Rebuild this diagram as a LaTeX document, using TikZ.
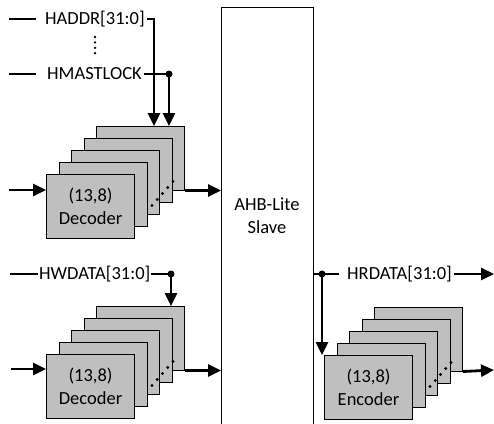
\documentclass[tikz,border=0pt]{standalone}
\usepackage{fontspec}
\setmainfont{Carlito}
\usetikzlibrary{arrows.meta}
\definecolor{cardgray}{HTML}{BFBFBF}
\begin{document}
\begin{tikzpicture}[x=1pt,y=-1pt,
  card/.style={draw=black, fill=cardgray, line width=1pt, minimum width=88pt, minimum height=63.5pt, inner sep=0pt, align=center, font=\fontsize{18.5}{23.5}\selectfont, anchor=north west},
  slave/.style={draw=black, line width=1pt, minimum width=92pt, minimum height=440pt, inner sep=0pt, anchor=north west},
  wire/.style={line width=2.8pt},
  arr/.style={wire, -{Triangle[length=13pt,width=12pt]}},
  lbl/.style={font=\fontsize{18.5}{23}\selectfont, inner sep=2pt, anchor=west},
  jdot/.style={circle, fill=black, inner sep=0pt, minimum size=7pt},
  sdot/.style={circle, fill=black, inner sep=0pt, minimum size=3.2pt}]
\clip (0,0) rectangle (494,423);

% AHB-Lite slave
\node[slave] (ahb) at (221,7) {};
\node[font=\fontsize{18.5}{23}\selectfont, align=center] (ahbtxt) at (267,216) {AHB-Lite\\Slave};

% ---------- top decoder stack ----------
\foreach \k in {4,3,2,1}
  \node[card] (dA\k) at ({46+12.5*\k},{174-12*\k}) {};
\node[card] (dA0) at (46,174) {(13,8)\\Decoder};
\foreach \i in {0,...,4}
  \node[sdot] (dAd\i) at ([shift={({17+5.25*\i},{-33-6*\i})}]dA0.south east) {};

% ---------- bottom decoder stack ----------
\foreach \k in {4,3,2,1}
  \node[card] (dB\k) at ({46+12.5*\k},{354-12*\k}) {};
\node[card] (dB0) at (46,354) {(13,8)\\Decoder};
\foreach \i in {0,...,4}
  \node[sdot] (dBd\i) at ([shift={({17+5.25*\i},{-33-6*\i})}]dB0.south east) {};

% ---------- encoder stack ----------
\foreach \k in {4,3,2,1}
  \node[card] (eC\k) at ({324+12.5*\k},{355-12*\k}) {};
\node[card] (eC0) at (324,355) {(13,8)\\Encoder};
\foreach \i in {0,...,4}
  \node[sdot] (eCd\i) at ([shift={({17+5.25*\i},{-33-6*\i})}]eC0.south east) {};

% ---------- labels ----------
\node[lbl] (haddr) at (43,19) {HADDR[31:0]};
\node[lbl] (hm) at (45,74) {HMASTLOCK};
\node[lbl, inner sep=1pt] (hw) at (38,274) {HWDATA[31:0]};
\node[lbl] (hr) at (345,274) {HRDATA[31:0]};

% vertical dots
\foreach \i in {0,...,3}
  \node[sdot, minimum size=2.6pt] (vd\i) at (95,{37+5.4*\i}) {};

% ---------- coordinates ----------
\coordinate (haL) at (9,19);
\coordinate (hmL) at (9,74);
\coordinate (hwL) at (10,274);
\coordinate (jA) at (169,74);
\coordinate (jB) at (171,274);
\coordinate (jC) at (322,274);
\coordinate (inA) at (9,190);
\coordinate (inB) at (11,369);
\coordinate (hrOut) at (494,274);
\coordinate (eOut) at (494,370);

% ---------- top wiring ----------
\draw[wire] (haL) -- ([xshift=-7pt]haddr.west);
\draw[wire] (hmL) -- ([xshift=-9pt]hm.west);
\draw[arr] (haddr.east) -| ([xshift=58pt]dA4.north west);
\draw[wire] (hm.east) -- (jA);
\draw[arr] (jA) -- (jA |- dA4.north);
\node[jdot] (jAd) at (jA) {};
\draw[arr] (inA) -- (inA -| dA0.west);
\draw[arr] (dA4.south east) -- (dA4.south east -| ahb.west);

% ---------- bottom-left wiring ----------
\draw[wire] (hwL) -- (hw.west);
\draw[wire] (hw.east) -- (jB);
\draw[arr] (jB) -- (jB |- dB4.north);
\node[jdot] (jBd) at (jB) {};
\draw[arr] (inB) -- (inB -| dB0.west);
\draw[arr] (dB4.south east) -- (dB4.south east -| ahb.west);

% ---------- right wiring ----------
\draw[wire] (ahb.east |- jC) -- (jC) -- ([xshift=-6pt]hr.west);
\draw[arr] (hr.east) -- (hrOut);
\draw[arr] (jC) -- (jC |- eC0.north);
\node[jdot] (jCd) at (jC) {};
\draw[arr] (eC4.south east) -- (eOut);
\end{tikzpicture}
\end{document}
